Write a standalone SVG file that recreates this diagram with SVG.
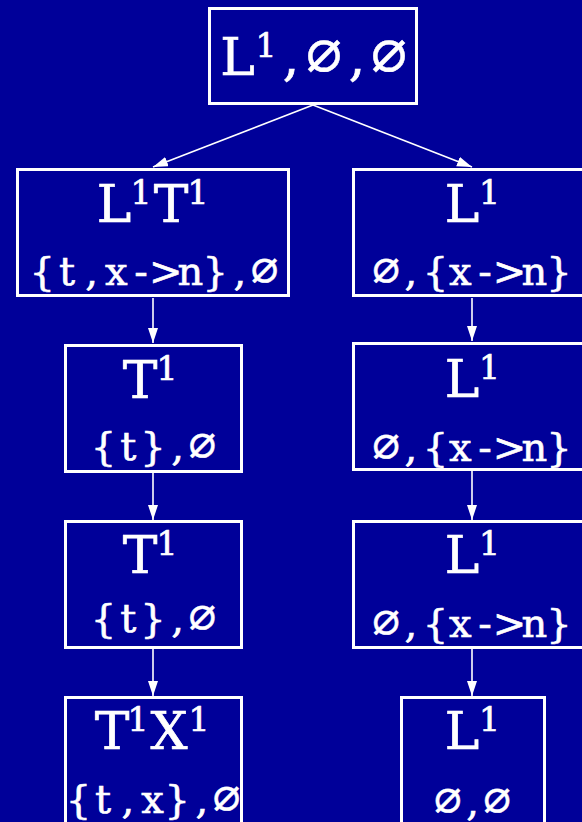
<svg xmlns="http://www.w3.org/2000/svg" width="582" height="822" viewBox="0 0 582 822">
<style>
.bg{fill:#000099}
.box{fill:none;stroke:#ffffff;stroke-width:3}
.t1{font-family:"DejaVu Serif","Liberation Serif",serif;font-size:52px;fill:#ffffff;stroke:#ffffff;stroke-width:0.7;text-anchor:middle}
.t2{font-family:"DejaVu Serif","Liberation Serif",serif;font-size:40px;fill:#ffffff;stroke:#ffffff;stroke-width:0.6;text-anchor:middle}
.sup{font-size:33px}
.e1{font-family:"DejaVu Sans Mono","DejaVu Sans",monospace;font-size:60px;stroke-width:0.4}
.e2{font-family:"DejaVu Sans Mono","DejaVu Sans",monospace;font-size:46px;stroke-width:0.4}
.edge{stroke:#ffffff;stroke-width:1.6;fill:none;marker-end:url(#ah)}
</style>
<defs>
<marker id="ah" markerUnits="userSpaceOnUse" markerWidth="16" markerHeight="12" refX="15" refY="5" orient="auto">
<path d="M0,0 L15,5 L0,10 z" fill="#ffffff"/>
</marker>
</defs>
<rect class="bg" x="0" y="0" width="582" height="822"/>
<g id="connectors">
<line class="edge" x1="313" y1="105" x2="153" y2="167"/>
<line class="edge" x1="313" y1="105" x2="472" y2="167"/>
<line class="edge" x1="153" y1="298" x2="153" y2="343"/>
<line class="edge" x1="472" y1="298" x2="472" y2="341"/>
<line class="edge" x1="153" y1="473" x2="153" y2="520"/>
<line class="edge" x1="472" y1="471" x2="472" y2="520"/>
<line class="edge" x1="153" y1="649" x2="153" y2="696"/>
<line class="edge" x1="472" y1="648" x2="472" y2="696"/>
</g>
<g id="n0">
<rect class="box" x="209.5" y="8.5" width="207" height="95"/>
<text class="t1" y="75"><tspan x="237.5">L</tspan><tspan class="sup" x="266" y="57">1</tspan><tspan x="291" y="75">,</tspan><tspan class="e1" x="324">∅</tspan><tspan x="357">,</tspan><tspan class="e1" x="389">∅</tspan></text>
</g>
<g id="n1">
<rect class="box" x="17.5" y="169.5" width="271" height="126"/>
<text class="t1" y="222"><tspan x="114">L</tspan><tspan class="sup" x="141" y="204">1</tspan><tspan x="171" y="222">T</tspan><tspan class="sup" x="198" y="204">1</tspan></text>
<text class="t2" y="285" x="42.3 67 91.7 116.4 141.1 165.8 190.5 215.2 239.9">{t,x-&gt;n},<tspan class="e2" x="264.6">∅</tspan></text>
</g>
<g id="n2">
<rect class="box" x="353.5" y="169.5" width="240" height="126"/>
<text class="t1" y="222"><tspan x="462">L</tspan><tspan class="sup" x="489.5" y="204">1</tspan></text>
<text class="t2" y="285"><tspan class="e2" x="386.1">∅</tspan><tspan x="410.8 435.5 460.2 484.9 509.6 534.3 559">,{x-&gt;n}</tspan></text>
</g>
<g id="n3">
<rect class="box" x="65.5" y="345.5" width="176" height="126"/>
<text class="t1" y="398"><tspan x="140">T</tspan><tspan class="sup" x="167" y="380">1</tspan></text>
<text class="t2" y="460" x="103.6 128.3 153 177.7">{t},<tspan class="e2" x="202.4">∅</tspan></text>
</g>
<g id="n4">
<rect class="box" x="353.5" y="343.5" width="240" height="126"/>
<text class="t1" y="397"><tspan x="462">L</tspan><tspan class="sup" x="489.5" y="379">1</tspan></text>
<text class="t2" y="461"><tspan class="e2" x="386.1">∅</tspan><tspan x="410.8 435.5 460.2 484.9 509.6 534.3 559">,{x-&gt;n}</tspan></text>
</g>
<g id="n5">
<rect class="box" x="65.5" y="521.5" width="176" height="126"/>
<text class="t1" y="573"><tspan x="140">T</tspan><tspan class="sup" x="167" y="555">1</tspan></text>
<text class="t2" y="632" x="103.6 128.3 153 177.7">{t},<tspan class="e2" x="202.4">∅</tspan></text>
</g>
<g id="n6">
<rect class="box" x="353.5" y="521.5" width="240" height="126"/>
<text class="t1" y="573"><tspan x="462">L</tspan><tspan class="sup" x="489.5" y="555">1</tspan></text>
<text class="t2" y="637"><tspan class="e2" x="386.1">∅</tspan><tspan x="410.8 435.5 460.2 484.9 509.6 534.3 559">,{x-&gt;n}</tspan></text>
</g>
<g id="n7">
<rect class="box" x="65.5" y="697.5" width="176" height="140"/>
<text class="t1" y="749"><tspan x="112">T</tspan><tspan class="sup" x="138" y="731">1</tspan><tspan x="169" y="749">X</tspan><tspan class="sup" x="199" y="731">1</tspan></text>
<text class="t2" y="813" x="78.4 103.1 127.8 152.5 177.2 201.9">{t,x},<tspan class="e2" x="226.6">∅</tspan></text>
</g>
<g id="n8">
<rect class="box" x="401.5" y="697.5" width="143" height="140"/>
<text class="t1" y="749"><tspan x="462">L</tspan><tspan class="sup" x="489.5" y="731">1</tspan></text>
<text class="t2" y="815"><tspan class="e2" x="447.8">∅</tspan><tspan x="472.5">,</tspan><tspan class="e2" x="497.2">∅</tspan></text>
</g>
</svg>
